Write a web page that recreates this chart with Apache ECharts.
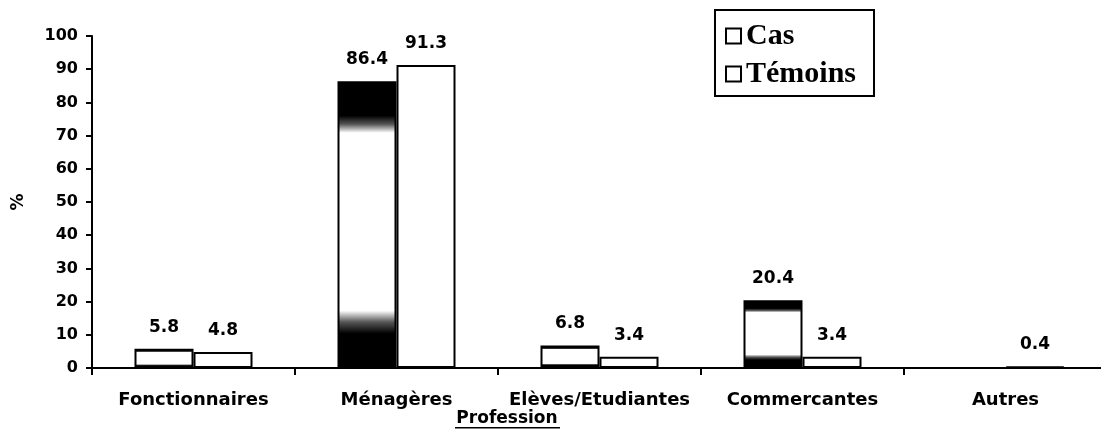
<!DOCTYPE html>
<html>
<head>
<meta charset="utf-8">
<script src="https://cdn.jsdelivr.net/npm/echarts@6/dist/echarts.min.js"></script>
<style>html,body{margin:0;padding:0;background:#fff;}#c{width:1101px;height:429px;}</style>
</head>
<body>
<div id="c"></div>
<script>
var categories = ['Fonctionnaires', 'Ménagères', 'Elèves/Etudiantes', 'Commercantes', 'Autres'];
var casValues = [5.8, 86.4, 6.8, 20.4, 0];
var temoinsValues = [4.8, 91.3, 3.4, 3.4, 0.4];
var yTicks = [0, 10, 20, 30, 40, 50, 60, 70, 80, 90, 100];

var chart = echarts.init(document.getElementById('c'));
var fam = '"DejaVu Sans", Arial, sans-serif';
function font(size) { return { fontFamily: fam, fontWeight: 'bold', fontSize: size, color: '#000' }; }
var casFill = new echarts.graphic.LinearGradient(0, 0, 0, 1, [
  { offset: 0, color: '#000' }, { offset: 0.12, color: '#000' },
  { offset: 0.15, color: '#555' }, { offset: 0.18, color: '#fff' },
  { offset: 0.8, color: '#fff' }, { offset: 0.84, color: '#555' },
  { offset: 0.88, color: '#000' }, { offset: 1, color: '#000' }
]);
chart.setOption({
  animation: false,
  backgroundColor: '#fff',
  grid: { left: 92, top: 36, bottom: 61, right: -6, containLabel: false, outerBoundsMode: 'none' },
  legend: {
    orient: 'vertical', left: 715, top: 10,
    padding: [11, 18, 7, 10], itemGap: 8,
    borderColor: '#000', borderWidth: 2, backgroundColor: '#fff',
    icon: 'rect', itemWidth: 15, itemHeight: 15,
    textStyle: { fontFamily: '"Liberation Serif", serif', fontWeight: 'bold', fontSize: 30, color: '#000' },
    data: [
      { name: 'Cas', itemStyle: { color: '#fff', borderColor: '#000', borderWidth: 2 } },
      { name: 'Témoins', itemStyle: { color: '#fff', borderColor: '#000', borderWidth: 2 } }
    ]
  },
  xAxis: {
    type: 'category', data: categories,
    axisLine: { lineStyle: { color: '#000', width: 2 } },
    axisTick: { show: true, length: 7, lineStyle: { color: '#000', width: 2 } },
    axisLabel: Object.assign({ margin: 23, interval: 0 }, font(18))
  },
  yAxis: {
    type: 'value', min: yTicks[0], max: yTicks[yTicks.length - 1], interval: 10,
    name: '%', nameLocation: 'middle', nameGap: 65, nameRotate: 90,
    nameTextStyle: font(17),
    splitLine: { show: false },
    axisLine: { show: true, lineStyle: { color: '#000', width: 2 } },
    axisTick: { show: true, length: 6, lineStyle: { color: '#000', width: 2 } },
    axisLabel: Object.assign({ margin: 14 }, font(16))
  },
  graphic: [
    { type: 'text', x: 507, y: 419, style: { text: 'Profession', font: 'bold 17px "DejaVu Sans", Arial, sans-serif', fill: '#000', align: 'center', verticalAlign: 'middle' } },
    { type: 'rect', shape: { x: 455, y: 427, width: 105, height: 1.5 }, style: { fill: '#000' } }
  ],
  series: [
    {
      name: 'Cas', type: 'bar', data: casValues, barWidth: 59, barGap: '0%',
      itemStyle: { color: casFill, borderColor: '#000', borderWidth: 2 },
      label: Object.assign({ show: true, position: 'top', distance: 13,
        formatter: function (p) { return p.value ? p.value.toFixed(1) : ''; } }, font(17))
    },
    {
      name: 'Témoins', type: 'bar', data: temoinsValues, barWidth: 59,
      itemStyle: { color: '#fff', borderColor: '#000', borderWidth: 2 },
      label: Object.assign({ show: true, position: 'top', distance: 13,
        formatter: function (p) { return p.value.toFixed(1); } }, font(17))
    }
  ]
});
</script>
</body>
</html>
